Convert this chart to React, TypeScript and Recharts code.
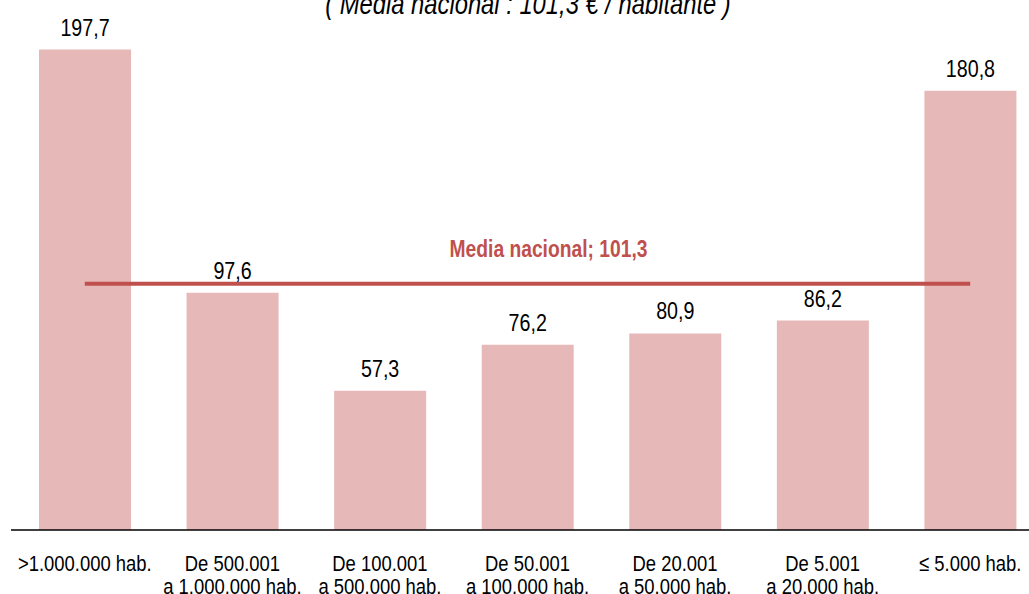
import { Bar, BarChart, Customized, LabelList, ReferenceLine, XAxis, YAxis } from 'recharts';

// Tramos de población (dos líneas por etiqueta)
const TRAMO_LINEA1 = ['>1.000.000 hab.', 'De 500.001', 'De 100.001', 'De 50.001', 'De 20.001', 'De 5.001', '≤ 5.000 hab.'];
const TRAMO_LINEA2 = ['', 'a 1.000.000 hab.', 'a 500.000 hab.', 'a 100.000 hab.', 'a 50.000 hab.', 'a 20.000 hab.', ''];
// Gasto por habitante (€)
const VALORES = [197.7, 97.6, 57.3, 76.2, 80.9, 86.2, 180.8];
const MEDIA_NACIONAL = 101.3;

const TITULO = '( Media nacional : 101,3 € / habitante )';

// no hay Arial Narrow: se comprime Liberation Sans en horizontal
const FONT = '"Liberation Sans", Arial, sans-serif';
const NARROW = 0.82;
const BAR_COLOR = '#E6B8B8';
const MEDIA_COLOR = '#C0504D';

const chartData = TRAMO_LINEA1.map((l1, i) => ({
  name: TRAMO_LINEA2[i] ? `${l1}\n${TRAMO_LINEA2[i]}` : l1,
  valor: VALORES[i],
}));

const fmt = (v: number) => v.toFixed(1).replace('.', ',');

// texto estrecho anclado en (x, y)
function NarrowText({ x, y, children, ...rest }: any) {
  return (
    <g transform={`translate(${x},${y}) scale(${NARROW},1)`}>
      <text x={0} y={0} textAnchor="middle" fontFamily={FONT} {...rest}>
        {children}
      </text>
    </g>
  );
}

function TramoTick(props: any) {
  const { x, y, payload } = props;
  const lines = String(payload.value).split('\n');
  return (
    <g>
      {lines.map((l, i) => (
        <NarrowText key={i} x={x} y={y + 41 + i * 23} fontSize={22.5} fill="#000">
          {l}
        </NarrowText>
      ))}
    </g>
  );
}

function ValorLabel(props: any) {
  const { x, y, width, value } = props;
  return (
    <NarrowText x={x + width / 2} y={y - 14} fontSize={24} fill="#000">
      {fmt(Number(value))}
    </NarrowText>
  );
}

function MediaLabel(props: any) {
  const vb = props.viewBox || {};
  const cx = (vb.x ?? 0) + (vb.width ?? 0) / 2 + 21;
  return (
    <NarrowText x={cx} y={(vb.y ?? 0) - 27} fontSize={23.5} fontWeight="bold" fill={MEDIA_COLOR}>
      {`Media nacional; ${fmt(MEDIA_NACIONAL)}`}
    </NarrowText>
  );
}

function Titulo() {
  return (
    <NarrowText x={528} y={14} fontSize={29} fontStyle="italic" fill="#000">
      {TITULO}
    </NarrowText>
  );
}

export default function App() {
  return (
    <div style={{ position: 'fixed', left: 0, top: 0, width: 1029, height: 594, overflow: 'hidden', background: '#fff' }}>
      <BarChart
        width={1060}
        height={594}
        data={chartData}
        margin={{ top: 44, right: 16, bottom: 0, left: 11 }}
        barSize={92}
      >
        <XAxis
          dataKey="name"
          interval={0}
          height={64}
          tickLine={false}
          tickSize={0}
          tickMargin={0}
          axisLine={{ stroke: '#000', strokeWidth: 1.5 }}
          tick={<TramoTick />}
        />
        <YAxis hide domain={[0, 200]} />
        <Bar dataKey="valor" fill={BAR_COLOR} isAnimationActive={false}>
          <LabelList dataKey="valor" content={<ValorLabel />} />
        </Bar>
        <ReferenceLine
          segment={[
            { x: chartData[0].name, y: MEDIA_NACIONAL },
            { x: chartData[chartData.length - 1].name, y: MEDIA_NACIONAL },
          ]}
          stroke={MEDIA_COLOR}
          strokeWidth={4}
          label={<MediaLabel />}
        />
        <Customized component={Titulo} />
      </BarChart>
    </div>
  );
}
